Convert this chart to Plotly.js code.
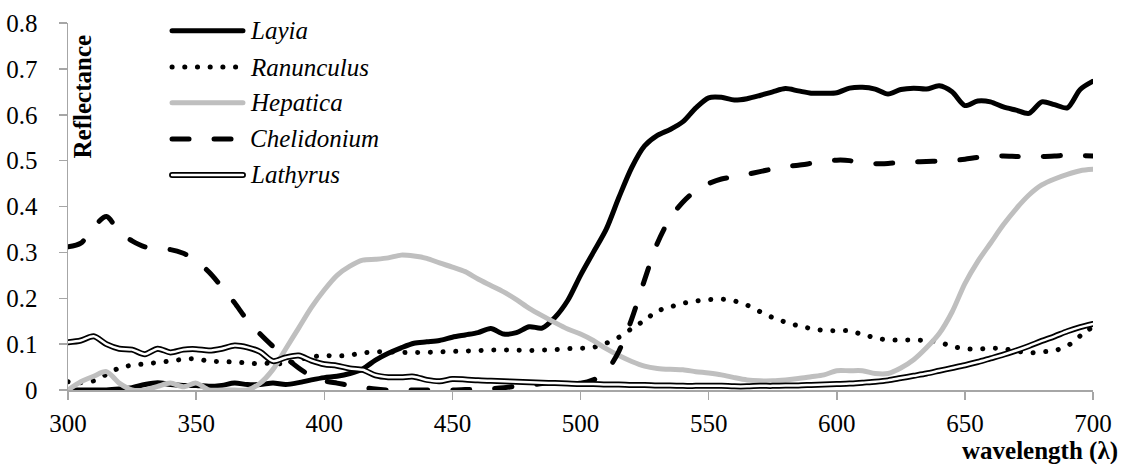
<!DOCTYPE html>
<html>
<head>
<meta charset="utf-8">
<script src="https://cdn.plot.ly/plotly-3.0.1.min.js"></script>
<style>
  html, body { margin: 0; padding: 0; background: #fff; }
  #chart { width: 1129px; height: 464px; }
  /* rounded caps give the dotted / dashed curves their soft ends */
  .scatterlayer path.js-line, .shapelayer path { stroke-linecap: round; stroke-linejoin: round; }
</style>
</head>
<body>
<div id="chart"></div>
<script>
// Wavelength grid (nm)
const wavelength = [];
for (let w = 300; w <= 700; w += 5) wavelength.push(w);

// Reflectance spectra, one value per 5 nm step from 300 to 700 nm
const layia = [
  0.000, 0.000, 0.000, 0.000, 0.002, 0.005, 0.012, 0.016, 0.012, 0.010,
  0.010, 0.008, 0.010, 0.015, 0.012, 0.012, 0.015, 0.012, 0.016, 0.022,
  0.027, 0.030, 0.036, 0.046, 0.065, 0.080, 0.092, 0.102, 0.105, 0.108,
  0.115, 0.120, 0.125, 0.134, 0.122, 0.125, 0.138, 0.135, 0.158, 0.195,
  0.250, 0.300, 0.350, 0.420, 0.485, 0.532, 0.555, 0.568, 0.585, 0.615,
  0.637, 0.638, 0.632, 0.635, 0.642, 0.650, 0.657, 0.652, 0.647, 0.647,
  0.648, 0.658, 0.660, 0.656, 0.645, 0.655, 0.658, 0.656, 0.663, 0.650,
  0.620, 0.630, 0.628, 0.617, 0.610, 0.603, 0.628, 0.622, 0.615, 0.655,
  0.673
];

const ranunculus = [
  0.018, 0.016, 0.020, 0.034, 0.048, 0.054, 0.057, 0.060, 0.063, 0.067,
  0.068, 0.063, 0.062, 0.061, 0.059, 0.057, 0.059, 0.056, 0.066, 0.072,
  0.075, 0.074, 0.076, 0.081, 0.083, 0.083, 0.082, 0.082, 0.082, 0.083,
  0.084, 0.085, 0.086, 0.087, 0.087, 0.087, 0.086, 0.087, 0.088, 0.090,
  0.091, 0.093, 0.102, 0.115, 0.134, 0.152, 0.172, 0.181, 0.189, 0.194,
  0.197, 0.198, 0.194, 0.185, 0.171, 0.158, 0.148, 0.140, 0.134, 0.130,
  0.129, 0.129, 0.121, 0.114, 0.109, 0.109, 0.109, 0.108, 0.104, 0.095,
  0.090, 0.089, 0.091, 0.090, 0.085, 0.081, 0.083, 0.086, 0.096, 0.118,
  0.138
];

const hepatica = [
  0.000, 0.018, 0.030, 0.040, 0.015, 0.000, 0.000, 0.008, 0.015, 0.007,
  0.015, 0.000, 0.000, 0.000, 0.000, 0.015, 0.045, 0.090, 0.135, 0.180,
  0.218, 0.250, 0.270, 0.283, 0.285, 0.288, 0.294, 0.292, 0.287, 0.277,
  0.268, 0.258, 0.242, 0.228, 0.214, 0.197, 0.178, 0.162, 0.147, 0.133,
  0.122, 0.108, 0.090, 0.075, 0.062, 0.052, 0.047, 0.045, 0.044, 0.040,
  0.037, 0.033, 0.027, 0.022, 0.020, 0.020, 0.022, 0.025, 0.029, 0.033,
  0.042, 0.042, 0.042, 0.036, 0.036, 0.048, 0.066, 0.092, 0.123, 0.170,
  0.232, 0.280, 0.320, 0.360, 0.395, 0.425, 0.447, 0.460, 0.470, 0.478,
  0.481
];

const chelidonium = [
  0.312, 0.320, 0.355, 0.378, 0.345, 0.325, 0.312, 0.308, 0.306, 0.298,
  0.283, 0.257, 0.225, 0.190, 0.152, 0.122, 0.095, 0.070, 0.048, 0.030,
  0.020, 0.015, 0.010, 0.006, 0.002, 0.000, 0.000, 0.000, 0.000, 0.000,
  0.000, 0.001, 0.002, 0.003, 0.005, 0.008, 0.010, 0.014, 0.016, 0.016,
  0.015, 0.022, 0.040, 0.085, 0.155, 0.240, 0.320, 0.375, 0.410, 0.435,
  0.450, 0.460, 0.465, 0.470, 0.476, 0.482, 0.487, 0.490, 0.494, 0.498,
  0.501, 0.500, 0.494, 0.493, 0.494, 0.496, 0.497, 0.498, 0.499, 0.500,
  0.503, 0.507, 0.510, 0.510, 0.509, 0.508, 0.509, 0.510, 0.512, 0.511,
  0.510
];

const lathyrus = [
  0.104, 0.108, 0.117, 0.100, 0.090, 0.088, 0.078, 0.090, 0.082, 0.088,
  0.089, 0.086, 0.090, 0.097, 0.093, 0.083, 0.063, 0.071, 0.075, 0.064,
  0.056, 0.053, 0.047, 0.044, 0.032, 0.028, 0.028, 0.029, 0.022, 0.019,
  0.024, 0.023, 0.021, 0.020, 0.019, 0.018, 0.017, 0.016, 0.015, 0.014,
  0.013, 0.013, 0.012, 0.012, 0.011, 0.011, 0.010, 0.010, 0.009, 0.009,
  0.009, 0.009, 0.008, 0.008, 0.009, 0.009, 0.010, 0.010, 0.011, 0.012,
  0.013, 0.014, 0.016, 0.018, 0.021, 0.026, 0.031, 0.036, 0.042, 0.048,
  0.054, 0.061, 0.069, 0.077, 0.086, 0.096, 0.107, 0.117, 0.128, 0.137,
  0.144
];

const seriesNames = ['Layia', 'Ranunculus', 'Hepatica', 'Chelidonium', 'Lathyrus'];
const xTicks = [300, 350, 400, 450, 500, 550, 600, 650, 700];
const yTicks = [0, 0.1, 0.2, 0.3, 0.4, 0.5, 0.6, 0.7, 0.8];

const SERIF = 'Liberation Serif';
const BLACK = '#000000';
const GREY = '#bfbfbf';
const DOT = '0.1px,12.6px';
const DASH = '17px,25px';

function curve(name, y, line) {
  return {
    type: 'scatter', mode: 'lines', name: name,
    x: wavelength, y: y,
    line: Object.assign({ shape: 'spline', smoothing: 0.8 }, line),
    hoverinfo: 'x+y+name', showlegend: false
  };
}

const traces = [
  curve(seriesNames[0], layia, { color: BLACK, width: 5 }),
  curve(seriesNames[1], ranunculus, { color: BLACK, width: 5, dash: DOT }),
  curve(seriesNames[2], hepatica, { color: GREY, width: 5 }),
  curve(seriesNames[3], chelidonium, { color: BLACK, width: 5, dash: DASH }),
  // double-rule line: thick black stroke with a thin white core
  curve(seriesNames[4], lathyrus, { color: BLACK, width: 6 }),
  curve(seriesNames[4], lathyrus, { color: '#ffffff', width: 2.5 })
];

// Hand-built key in the upper left of the plot area
const keyStyles = [
  [{ color: BLACK, width: 5 }],
  [{ color: BLACK, width: 5, dash: DOT }],
  [{ color: GREY, width: 5 }],
  [{ color: BLACK, width: 5, dash: DASH }],
  [{ color: BLACK, width: 6 }, { color: '#ffffff', width: 2.5 }]
];
const keyX0 = 0.1015, keyX1 = 0.1707, keyTextX = 0.1756;
const keyY = [0.979, 0.880, 0.783, 0.684, 0.586];

const shapes = [];
const annotations = [];
seriesNames.forEach((name, i) => {
  keyStyles[i].forEach(st => {
    shapes.push({
      type: 'line', xref: 'paper', yref: 'paper',
      x0: keyX0, x1: keyX1, y0: keyY[i], y1: keyY[i],
      line: st
    });
  });
  annotations.push({
    xref: 'paper', yref: 'paper', x: keyTextX, y: keyY[i],
    xanchor: 'left', yanchor: 'middle', showarrow: false,
    text: '<i>' + name + '</i>',
    font: { family: SERIF, size: 25, color: BLACK }
  });
});

annotations.push({
  xref: 'paper', yref: 'paper', x: 0.0137, y: 0.80,
  xanchor: 'center', yanchor: 'middle', showarrow: false, textangle: -90,
  text: '<b>Reflectance</b>',
  font: { family: SERIF, size: 25, color: BLACK }
});
annotations.push({
  xref: 'paper', yref: 'paper', x: 1.0263, y: -0.166,
  xanchor: 'right', yanchor: 'middle', showarrow: false,
  text: '<b>wavelength (λ)</b>',
  font: { family: SERIF, size: 25, color: BLACK }
});

const axisCommon = {
  showgrid: false, zeroline: false,
  showline: true, linecolor: '#a6a6a6', linewidth: 1.5,
  ticks: 'outside', ticklen: 8, tickcolor: '#a6a6a6', tickwidth: 1.5,
  tickfont: { family: SERIF, size: 25, color: BLACK },
  fixedrange: true
};

const layout = {
  width: 1129, height: 464,
  margin: { l: 68, r: 36, t: 23, b: 74, pad: 0 },
  paper_bgcolor: '#ffffff', plot_bgcolor: '#ffffff',
  showlegend: false,
  font: { family: SERIF, size: 25, color: BLACK },
  xaxis: Object.assign({}, axisCommon, {
    range: [300, 700], tickmode: 'array', tickvals: xTicks,
    ticktext: xTicks.map(String), ticklabelstandoff: 2
  }),
  yaxis: Object.assign({}, axisCommon, {
    range: [0, 0.8], tickmode: 'array', tickvals: yTicks,
    ticktext: yTicks.map(v => v === 0 ? '0' : v.toFixed(1)), ticklabelstandoff: 16
  }),
  shapes: shapes,
  annotations: annotations
};

Plotly.newPlot('chart', traces, layout, { displayModeBar: false, staticPlot: true });
</script>
</body>
</html>
